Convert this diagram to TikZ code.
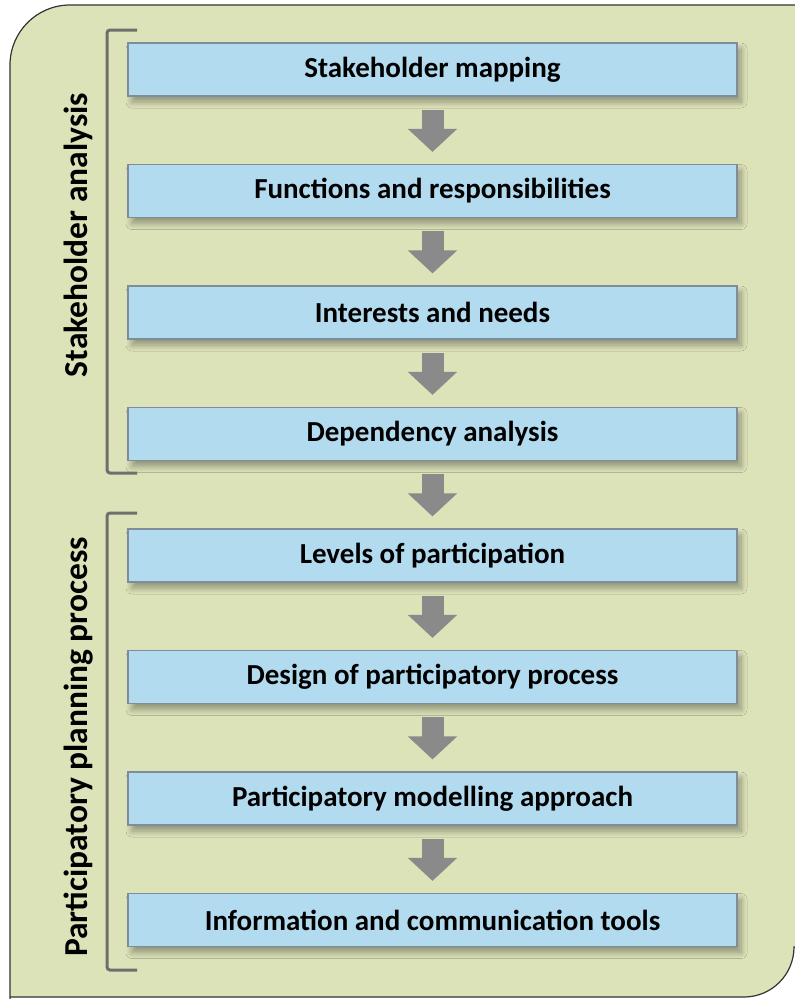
\documentclass[tikz,border=0pt]{standalone}
\usepackage{fontspec}
\setmainfont{Carlito}
\usepackage{tikz}
\usetikzlibrary{positioning,arrows.meta,shadows.blur}
\definecolor{panel}{HTML}{DDE3B9}
\definecolor{boxblue}{HTML}{B2DBEF}
\definecolor{boxline}{HTML}{7F8C99}
\definecolor{arrowgray}{HTML}{8A8A8A}
\definecolor{bracketgray}{HTML}{6E6E6E}
\tikzset{
  step box/.style={draw=boxline, line width=1.2pt, fill=boxblue,
    minimum width=609pt, minimum height=53pt, inner sep=0pt,
    font=\fontsize{29}{34}\selectfont\bfseries,
    blur shadow={shadow xshift=4pt, shadow yshift=-6pt,
      shadow opacity=35, shadow blur steps=10, shadow blur radius=6pt}},
  flow/.style={line width=22pt, arrowgray,
    -{Triangle[length=23pt, width=48pt]},
    shorten <=13pt, shorten >=12pt},
  brace/.style={bracketgray, line width=3pt, rounded corners=3pt},
  side/.style={rotate=90, font=\fontsize{33.5}{38}\selectfont\bfseries}
}
\begin{document}
\begin{tikzpicture}[x=1pt, y=1pt, node distance=67.3pt]
  \useasboundingbox (0,0) rectangle (795,-999);

  % ---------- Panel ----------
  \path[fill=panel, draw=black!80, line width=1.2pt]
    (10,-1010) -- (10,-65) arc[start angle=180, end angle=90, radius=60]
    -- (800,-5) -- (800,-947) -- (794,-947)
    arc[start angle=0, end angle=-90, radius=50] -- (10,-997) -- cycle;

  % ---------- Stakeholder analysis ----------
  \node[step box] (map) at (432.5,-69.5) {Stakeholder mapping};
  \node[step box, below=of map] (func) {Functions and responsibilities};
  \node[step box, below=of func] (need) {Interests and needs};
  \node[step box, below=of need] (dep) {Dependency analysis};

  % ---------- Participatory planning process ----------
  \node[step box, below=of dep] (level) {Levels of participation};
  \node[step box, below=of level] (design) {Design of participatory process};
  \node[step box, below=of design] (model) {Participatory modelling approach};
  \node[step box, below=of model] (tools) {Information and communication tools};

  \draw[flow] (map) -- (func);
  \draw[flow] (func) -- (need);
  \draw[flow] (need) -- (dep);
  \draw[flow] (dep) -- (level);
  \draw[flow] (level) -- (design);
  \draw[flow] (design) -- (model);
  \draw[flow] (model) -- (tools);

  % brackets and side labels
  \draw[brace] (137,-30) -- (107,-30) -- (107,-473) -- (137,-473);
  \draw[brace] (137,-513) -- (107,-513) -- (107,-970) -- (137,-970);
  \node[side] (sa) at (78,-235) {Stakeholder analysis};
  \node[side] (pp) at (79,-747) {Participatory planning process};

\end{tikzpicture}
\end{document}
